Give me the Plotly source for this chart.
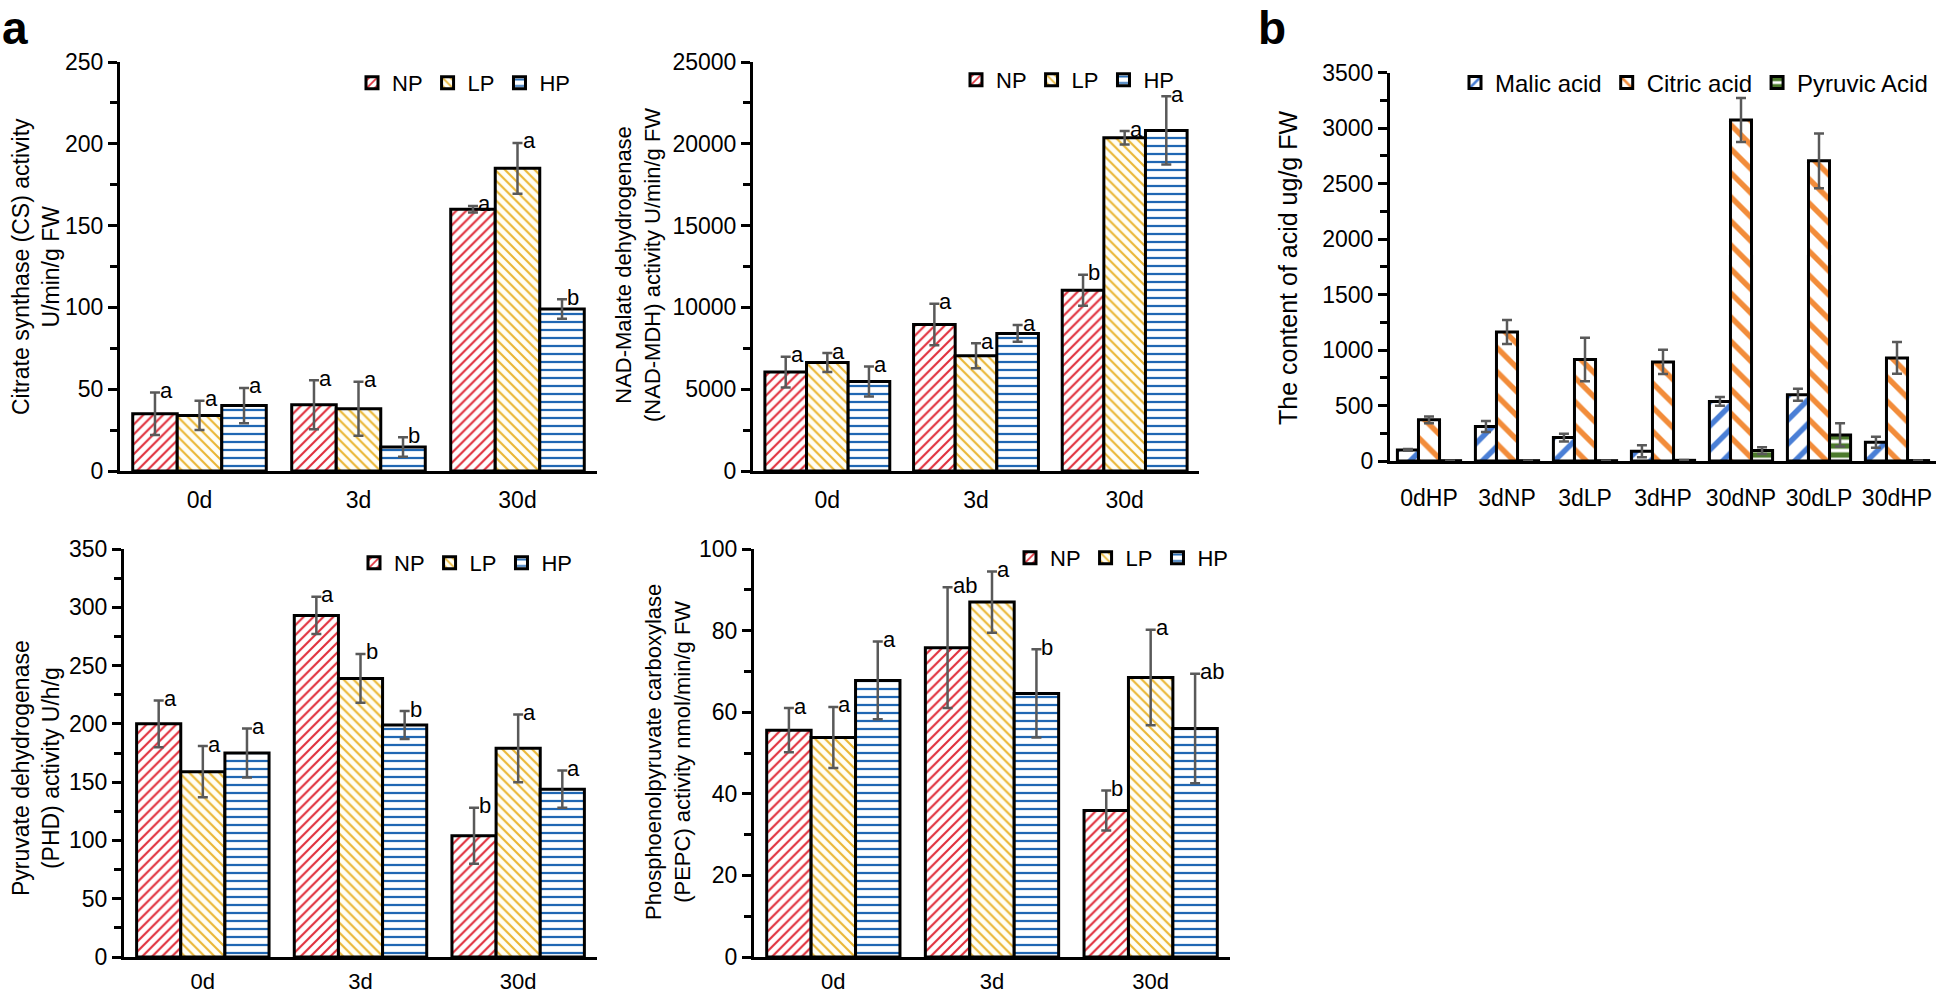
import plotly.graph_objects as go

W, H = 1944, 996

# ---------------- data ----------------
days = ["0d", "3d", "30d"]
series_names = ["NP", "LP", "HP"]

cs_np = [35, 40.5, 160];   cs_np_err = [13, 15, 2]
cs_lp = [34, 38, 185];     cs_lp_err = [9, 16.5, 15.5]
cs_hp = [40, 14.7, 99];    cs_hp_err = [10.8, 6, 6]
cs_np_let = ["a", "a", "a"]; cs_lp_let = ["a", "a", "a"]; cs_hp_let = ["a", "b", "b"]

mdh_np = [6050, 8950, 11050];   mdh_np_err = [940, 1270, 950]
mdh_lp = [6630, 7040, 20370];   mdh_lp_err = [580, 765, 410]
mdh_hp = [5470, 8410, 20820];   mdh_hp_err = [920, 510, 2090]
mdh_np_let = ["a", "a", "b"]; mdh_lp_let = ["a", "a", "a"]; mdh_hp_let = ["a", "a", "a"]

phd_np = [200, 293, 104];  phd_np_err = [20, 16, 24]
phd_lp = [159, 239, 179];  phd_lp_err = [22, 21, 29]
phd_hp = [175, 199, 144];  phd_hp_err = [21, 12, 16]
phd_np_let = ["a", "a", "b"]; phd_lp_let = ["a", "b", "a"]; phd_hp_let = ["a", "b", "a"]

pepc_np = [55.6, 75.8, 35.9];  pepc_np_err = [5.4, 14.8, 4.9]
pepc_lp = [53.8, 87.0, 68.5];  pepc_lp_err = [7.5, 7.5, 11.7]
pepc_hp = [67.8, 64.6, 56.0];  pepc_hp_err = [9.5, 10.8, 13.4]
pepc_np_let = ["a", "ab", "b"]; pepc_lp_let = ["a", "a", "a"]; pepc_hp_let = ["a", "b", "ab"]

acid_cats = ["0dHP", "3dNP", "3dLP", "3dHP", "30dNP", "30dLP", "30dHP"]
acid_names = ["Malic acid", "Citric acid", "Pyruvic Acid"]
malic = [100, 311, 211, 88, 537, 597, 169];      malic_err = [8, 50, 35, 55, 40, 55, 50]
citric = [371, 1162, 914, 893, 3072, 2704, 929]; citric_err = [30, 108, 196, 110, 198, 246, 142]
pyruvic = [3, 3, 3, 6, 94, 235, 4];              pyruvic_err = [0, 0, 0, 3, 30, 105, 0]

# ---------------- styles ----------------
FONT = "Liberation Sans, Arial, sans-serif"
ERR_COLOR = "#595959"

a_styles = [
    dict(shape="/", fg="#e0303c", bg="#ffffff", size=7, solidity=0.3),
    dict(shape="\\", fg="#eab634", bg="#fffef6", size=7, solidity=0.3),
    dict(shape="-", fg="#2067b3", bg="#ffffff", size=8, solidity=0.28),
]
b_styles = [
    dict(shape="/", fg="#4a7fd6", bg="#ffffff", size=17, solidity=0.32),
    dict(shape="\\", fg="#f28c3a", bg="#ffffff", size=17, solidity=0.32),
    dict(shape="-", fg="#4c7a2c", bg="#ffffff", size=9, solidity=0.6),
]

# panel geometry in pixels: (x0, x1), (ytop, ybottom)
panels = [
    dict(px=(120, 597), py=(62, 471), yrange=(0, 250), dtick=50, minor=25,
         title="Citrate synthase (CS) activity<br>U/min/g FW", tx=36, ty=267, tsize=23,
         legx=352, legy=83, lsize=22, xstand=6),
    dict(px=(753, 1199), py=(62, 471), yrange=(0, 25000), dtick=5000, minor=2500,
         title="NAD-Malate dehydrogenase<br>(NAD-MDH) activity U/min/g FW", tx=638, ty=265, tsize=22,
         legx=956, legy=80, lsize=22, xstand=6),
    dict(px=(124, 597), py=(549, 957), yrange=(0, 350), dtick=50, minor=25,
         title="Pyruvate dehydrogenase<br>(PHD) activity U/h/g", tx=36, ty=768, tsize=23,
         legx=354, legy=563, lsize=22, xstand=3),
    dict(px=(754, 1230), py=(549, 957), yrange=(0, 100), dtick=20, minor=10,
         title="Phosphoenolpyruvate carboxylase<br>(PEPC) activity nmol/min/g FW", tx=668, ty=752, tsize=22,
         legx=1010, legy=558, lsize=22, xstand=3),
    dict(px=(1390, 1936), py=(72.5, 461), yrange=(0, 3500), dtick=500, minor=250,
         title="The content of acid ug/g FW", tx=1288, ty=268, tsize=25,
         legx=1455, legy=83, lsize=24, xstand=14),
]

a_data = [
    ([cs_np, cs_lp, cs_hp], [cs_np_err, cs_lp_err, cs_hp_err], [cs_np_let, cs_lp_let, cs_hp_let]),
    ([mdh_np, mdh_lp, mdh_hp], [mdh_np_err, mdh_lp_err, mdh_hp_err], [mdh_np_let, mdh_lp_let, mdh_hp_let]),
    ([phd_np, phd_lp, phd_hp], [phd_np_err, phd_lp_err, phd_hp_err], [phd_np_let, phd_lp_let, phd_hp_let]),
    ([pepc_np, pepc_lp, pepc_hp], [pepc_np_err, pepc_lp_err, pepc_hp_err], [pepc_np_let, pepc_lp_let, pepc_hp_let]),
]
b_data = ([malic, citric, pyruvic], [malic_err, citric_err, pyruvic_err])


def fx(px):
    return px / W


def fy(py):
    return 1 - py / H


fig = go.Figure()
annotations = []
layout = dict(
    template="none",
    width=W, height=H, margin=dict(l=0, r=0, t=0, b=0, pad=0, autoexpand=False),
    paper_bgcolor="white", plot_bgcolor="white", barmode="overlay",
    font=dict(family=FONT, color="black", size=22),
    showlegend=True,
)


def add_bar(idx, xs, ys, err, name, st, w, off, legend_name):
    fig.add_trace(go.Bar(
        x=xs, y=ys, name=name, width=w, offset=off,
        xaxis="x" if idx == 0 else f"x{idx+1}",
        yaxis="y" if idx == 0 else f"y{idx+1}",
        legend=legend_name,
        marker=dict(color=st["bg"], line=dict(color="black", width=3),
                    pattern=dict(shape=st["shape"], fgcolor=st["fg"], bgcolor=st["bg"],
                                 size=st["size"], solidity=st["solidity"], fillmode="replace")),
        error_y=dict(type="data", array=err, visible=True, color=ERR_COLOR,
                     thickness=2.5, width=5),
    ))


# panel a
w_a = 0.84 / 3
for p in range(4):
    vals, errs, lets = a_data[p]
    lname = "legend" if p == 0 else f"legend{p+1}"
    xs = list(range(len(days)))
    for j in range(3):
        off = (j - 1.5) * w_a
        add_bar(p, xs, vals[j], errs[j], series_names[j], a_styles[j], w_a, off, lname)
        for i in range(len(days)):
            annotations.append(dict(
                x=i + off + w_a / 2, y=vals[j][i] + errs[j][i],
                xref="x" if p == 0 else f"x{p+1}", yref="y" if p == 0 else f"y{p+1}",
                text=lets[j][i], showarrow=False, xanchor="left", yanchor="middle",
                xshift=3, yshift=2, font=dict(size=22, family=FONT, color="black")))

# panel b
w_b = 0.81 / 3
xs_b = list(range(len(acid_cats)))
for j in range(3):
    off = (j - 1.5) * w_b
    add_bar(4, xs_b, b_data[0][j], b_data[1][j], acid_names[j], b_styles[j], w_b, off, "legend5")

# axes
for p, P in enumerate(panels):
    sx = "" if p == 0 else str(p + 1)
    x0, x1 = P["px"]
    yt, yb = P["py"]
    cats = acid_cats if p == 4 else days
    layout[f"xaxis{sx}"] = dict(
        domain=[fx(x0), fx(x1)], anchor=f"y{sx}", range=[-0.5, len(cats) - 0.5],
        tickmode="array", tickvals=list(range(len(cats))), ticktext=cats,
        showline=True, linecolor="black", linewidth=3, ticks="", showgrid=False,
        zeroline=False, tickfont=dict(size=23 if p < 2 or p == 4 else 22, family=FONT, color="black"),
        ticklabelstandoff=P["xstand"], automargin=False, fixedrange=True,
    )
    layout[f"yaxis{sx}"] = dict(
        domain=[fy(yb), fy(yt)], anchor=f"x{sx}", range=list(P["yrange"]),
        tickmode="linear", tick0=0, dtick=P["dtick"], tickformat="d",
        ticks="outside", ticklen=9,
        tickwidth=2.5, tickcolor="black", showline=True, linecolor="black", linewidth=3,
        showgrid=False, zeroline=False, automargin=False,
        tickfont=dict(size=23, family=FONT, color="black"),
        minor=dict(ticks="outside", ticklen=7, tickwidth=2.5, tickcolor="black",
                   dtick=P["minor"], tick0=0, showgrid=False),
        fixedrange=True,
    )
    annotations.append(dict(
        x=fx(P["tx"]), y=fy(P["ty"]), xref="paper", yref="paper",
        text=P["title"], textangle=-90, showarrow=False, xanchor="center", yanchor="middle",
        font=dict(size=P["tsize"], family=FONT, color="black")))
    lname = "legend" if p == 0 else f"legend{p+1}"
    layout[lname] = dict(
        orientation="h", x=fx(P["legx"]), y=fy(P["legy"]), xanchor="left", yanchor="middle",
        bgcolor="rgba(0,0,0,0)", borderwidth=0, itemwidth=30, traceorder="normal",
        font=dict(size=P["lsize"], family=FONT, color="black"),
        itemclick=False, itemdoubleclick=False,
    )

# panel labels
annotations.append(dict(x=fx(0), y=fy(0), xref="paper", yref="paper", text="<b>a</b>",
                        showarrow=False, xanchor="left", yanchor="top",
                        font=dict(size=46, family=FONT, color="black")))
annotations.append(dict(x=fx(1256), y=fy(0), xref="paper", yref="paper", text="<b>b</b>",
                        showarrow=False, xanchor="left", yanchor="top",
                        font=dict(size=46, family=FONT, color="black")))

layout["annotations"] = annotations
fig.update_layout(**layout)
fig.write_html("out.html", config={"displayModeBar": False, "responsive": False},
               post_script="document.body.style.margin='0px';document.body.style.overflow='hidden';")
